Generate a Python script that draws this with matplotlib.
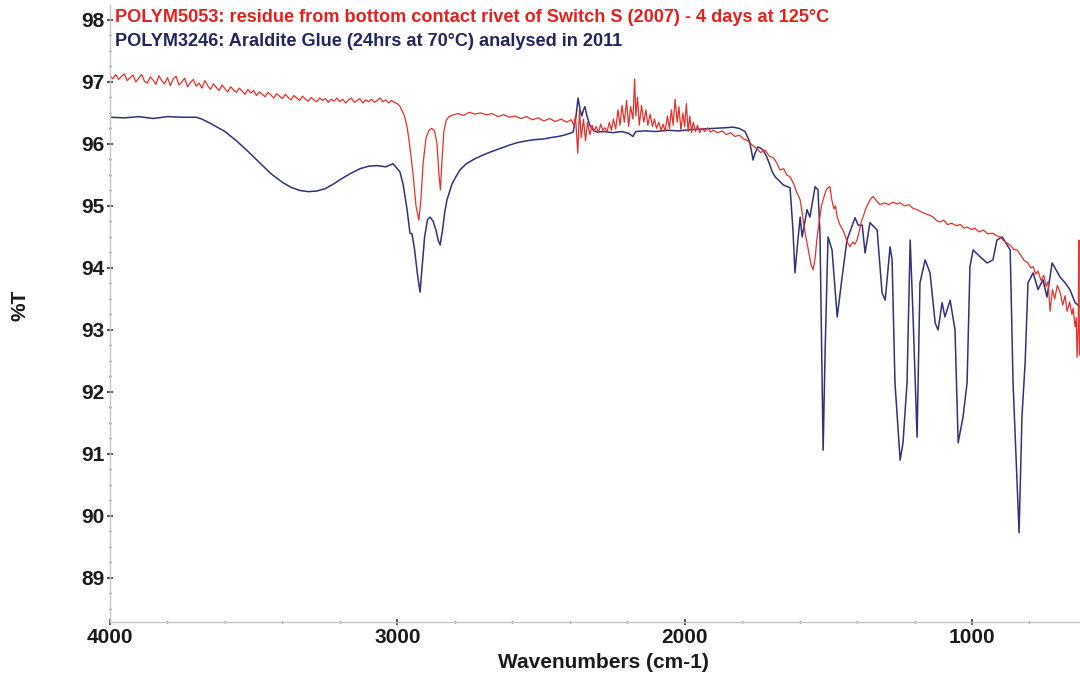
import matplotlib
matplotlib.use("Agg")
import matplotlib.pyplot as plt
from matplotlib.ticker import MultipleLocator

# POLYM5053 residue (red)
red_wn = [4000, 3990, 3980, 3970, 3960, 3950, 3940, 3930, 3920, 3910,
          3900, 3890, 3880, 3870, 3860, 3850, 3840, 3830, 3820, 3810,
          3800, 3790, 3780, 3770, 3760, 3750, 3740, 3730, 3720, 3710,
          3700, 3690, 3680, 3670, 3660, 3650, 3640, 3630, 3620, 3610,
          3600, 3590, 3580, 3570, 3560, 3550, 3540, 3530, 3520, 3510,
          3500, 3490, 3480, 3470, 3460, 3450, 3440, 3430, 3420, 3410,
          3400, 3390, 3380, 3370, 3360, 3350, 3340, 3330, 3320, 3310,
          3300, 3290, 3280, 3270, 3260, 3250, 3240, 3230, 3220, 3210,
          3200, 3190, 3180, 3170, 3160, 3150, 3140, 3130, 3120, 3110,
          3100, 3090, 3080, 3070, 3060, 3050, 3040, 3030, 3020, 3010,
          3000, 2990, 2975, 2965, 2955, 2945, 2935, 2925, 2918, 2910,
          2900, 2890, 2880, 2870, 2862, 2855, 2850, 2845, 2838, 2830,
          2820, 2810, 2790, 2770, 2750, 2730, 2710, 2690, 2670, 2650,
          2630, 2610, 2590, 2570, 2550, 2530, 2510, 2490, 2470, 2450,
          2430, 2410, 2395, 2385, 2380, 2372, 2366, 2360, 2352, 2345,
          2338, 2330, 2322, 2315, 2308, 2300, 2292, 2285, 2278, 2270,
          2262, 2255, 2248, 2240, 2232, 2225, 2218, 2210, 2202, 2195,
          2188, 2180, 2174, 2170, 2164, 2158, 2150, 2142, 2135, 2128,
          2120, 2112, 2105, 2098, 2090, 2082, 2075, 2068, 2060, 2053,
          2046, 2040, 2033, 2026, 2020, 2013, 2006, 2000, 1994, 1988,
          1982, 1976, 1970, 1962, 1955, 1948, 1940, 1930, 1920, 1910,
          1900, 1885, 1870, 1855, 1840, 1825, 1810, 1795, 1780, 1765,
          1748, 1735, 1720, 1705, 1692, 1680, 1668, 1655, 1645, 1633,
          1620, 1610, 1598, 1590, 1582, 1574, 1566, 1560, 1553, 1546,
          1539, 1530, 1524, 1518, 1508, 1500, 1494, 1488, 1480, 1475,
          1469, 1460, 1449, 1440, 1432, 1424, 1415, 1408, 1400, 1392,
          1385, 1379, 1370, 1360, 1352, 1344, 1335, 1328, 1320, 1305,
          1290, 1275, 1260, 1250, 1235, 1220, 1205, 1191, 1175, 1160,
          1147, 1135, 1122, 1111, 1098, 1085, 1070, 1055, 1040, 1028,
          1017, 1002, 990, 975, 960, 945, 927, 915, 902, 890,
          878, 865, 855, 843, 830, 818, 805, 795, 787, 778,
          770, 760, 750, 742, 735, 728, 720, 712, 703, 693,
          684, 676, 669, 660, 652, 648, 641, 637, 634, 630,
          628, 626]
red_t = [97.10, 97.05, 97.12, 97.04, 97.09, 97.13, 97.02, 97.07, 97.11, 97.00,
         97.06, 97.12, 97.01, 96.98, 97.08, 97.03, 96.96, 97.10, 97.02, 96.97,
         97.07, 96.94, 97.05, 97.09, 96.95, 97.00, 97.06, 96.92, 96.99, 97.04,
         96.93, 96.98, 96.90, 97.02, 96.94, 96.88, 96.97, 96.91, 96.86, 96.95,
         96.89, 96.84, 96.92, 96.87, 96.83, 96.90, 96.85, 96.80, 96.88, 96.82,
         96.86, 96.78, 96.84, 96.80, 96.76, 96.83, 96.79, 96.74, 96.81, 96.77,
         96.73, 96.80, 96.75, 96.71, 96.78, 96.74, 96.70, 96.77, 96.72, 96.69,
         96.75, 96.71, 96.68, 96.74, 96.70, 96.73, 96.67, 96.72, 96.69, 96.74,
         96.68, 96.72, 96.66, 96.71, 96.74, 96.67, 96.70, 96.73, 96.66, 96.71,
         96.68, 96.72, 96.67, 96.70, 96.74, 96.68, 96.71, 96.66, 96.70, 96.67,
         96.65, 96.60, 96.45, 96.25, 95.90, 95.50, 95.00, 94.77, 95.10, 95.70,
         96.10, 96.22, 96.25, 96.20, 96.00, 95.50, 95.26, 95.70, 96.20, 96.38,
         96.44, 96.46, 96.49, 96.46, 96.51, 96.48, 96.50, 96.47, 96.49, 96.44,
         96.47, 96.43, 96.45, 96.41, 96.44, 96.39, 96.42, 96.37, 96.41, 96.36,
         96.40, 96.35, 96.39, 96.30, 96.45, 95.85, 96.55, 96.10, 96.40, 96.05,
         96.35, 96.15, 96.30, 96.20, 96.28, 96.18, 96.32, 96.22, 96.26, 96.20,
         96.35, 96.22, 96.40, 96.24, 96.55, 96.30, 96.62, 96.35, 96.70, 96.28,
         96.60, 96.40, 97.05, 96.45, 96.75, 96.30, 96.62, 96.35, 96.55, 96.30,
         96.48, 96.28, 96.40, 96.25, 96.35, 96.22, 96.32, 96.20, 96.45, 96.25,
         96.55, 96.30, 96.72, 96.35, 96.60, 96.22, 96.50, 96.28, 96.65, 96.20,
         96.45, 96.18, 96.35, 96.20, 96.30, 96.18, 96.25, 96.20, 96.26, 96.19,
         96.22, 96.18, 96.21, 96.15, 96.18, 96.12, 96.14, 96.08, 96.05, 95.98,
         95.92, 95.86, 95.90, 95.80, 95.78, 95.70, 95.58, 95.60, 95.50, 95.47,
         95.35, 95.22, 95.10, 94.85, 94.60, 94.40, 94.20, 94.05, 93.97, 94.15,
         94.50, 94.80, 95.00, 95.10, 95.25, 95.30, 95.31, 95.10, 94.95, 95.00,
         94.82, 94.70, 94.61, 94.50, 94.40, 94.34, 94.42, 94.38, 94.45, 94.60,
         94.75, 94.82, 94.95, 95.05, 95.12, 95.15, 95.10, 95.06, 95.02, 95.05,
         95.02, 95.06, 95.03, 95.05, 95.00, 95.02, 94.96, 94.94, 94.90, 94.87,
         94.85, 94.82, 94.76, 94.74, 94.77, 94.70, 94.72, 94.68, 94.70, 94.64,
         94.66, 94.62, 94.64, 94.58, 94.61, 94.55, 94.56, 94.52, 94.50, 94.44,
         94.40, 94.36, 94.30, 94.29, 94.20, 94.12, 94.08, 94.00, 94.02, 93.90,
         93.95, 93.80, 93.88, 93.70, 93.78, 93.30, 93.65, 93.50, 93.72, 93.60,
         93.40, 93.55, 93.30, 93.45, 93.25, 93.35, 93.05, 93.20, 92.56, 93.10,
         94.45, 92.60]

# POLYM3246 Araldite glue (navy)
blue_wn = [4000, 3950, 3900, 3850, 3800, 3750, 3700, 3680, 3650, 3600,
           3560, 3520, 3480, 3440, 3400, 3370, 3340, 3310, 3280, 3250,
           3220, 3190, 3160, 3130, 3100, 3070, 3040, 3015, 2991, 2980,
           2966, 2956, 2949, 2940, 2930, 2921, 2914, 2905, 2895, 2886,
           2875, 2865, 2858, 2851, 2843, 2835, 2827, 2810, 2795, 2782,
           2760, 2730, 2702, 2670, 2640, 2610, 2583, 2550, 2520, 2490,
           2468, 2440, 2420, 2400, 2388, 2378, 2371, 2364, 2358, 2352,
           2347, 2340, 2330, 2318, 2305, 2280, 2250, 2220, 2195, 2180,
           2170, 2140, 2100, 2060, 2020, 1980, 1940, 1900, 1860, 1832,
           1810, 1790, 1775, 1768, 1762, 1755, 1745, 1735, 1727, 1715,
           1705, 1695, 1685, 1657, 1633, 1623, 1616, 1609, 1598, 1591,
           1574, 1564, 1546, 1536, 1529, 1518, 1511, 1501, 1487, 1469,
           1452, 1435, 1407, 1396, 1382, 1372, 1355, 1330, 1313, 1302,
           1285, 1278, 1268, 1250, 1240, 1226, 1215, 1205, 1191, 1181,
           1163, 1146, 1128, 1118, 1104, 1094, 1076, 1059, 1048, 1031,
           1017, 1007, 996, 972, 947, 927, 913, 895, 867, 857,
           843, 836, 826, 815, 805, 787, 770, 753, 739, 721,
           693, 676, 659, 641, 624]
blue_t = [96.43, 96.42, 96.44, 96.41, 96.44, 96.43, 96.43, 96.40, 96.33, 96.20,
          96.05, 95.88, 95.70, 95.52, 95.38, 95.30, 95.25, 95.23, 95.24, 95.28,
          95.36, 95.45, 95.53, 95.60, 95.64, 95.65, 95.63, 95.68, 95.55, 95.35,
          94.94, 94.56, 94.55, 94.30, 93.90, 93.61, 94.00, 94.50, 94.78, 94.82,
          94.75, 94.60, 94.45, 94.37, 94.60, 94.90, 95.10, 95.35, 95.48, 95.58,
          95.68, 95.76, 95.82, 95.88, 95.93, 95.98, 96.02, 96.05, 96.07, 96.08,
          96.10, 96.12, 96.14, 96.17, 96.19, 96.45, 96.74, 96.55, 96.45, 96.55,
          96.60, 96.45, 96.30, 96.22, 96.19, 96.20, 96.18, 96.20, 96.17, 96.12,
          96.20, 96.21, 96.20, 96.22, 96.21, 96.23, 96.24, 96.25, 96.26, 96.27,
          96.25, 96.20, 96.05, 95.90, 95.74, 95.85, 95.95, 95.93, 95.90, 95.80,
          95.68, 95.55, 95.47, 95.34, 95.29, 94.61, 93.92, 94.29, 94.82, 94.50,
          94.94, 94.82, 95.31, 95.26, 94.56, 91.06, 92.68, 94.50, 94.29, 93.21,
          93.85, 94.45, 94.81, 94.69, 94.69, 94.24, 94.73, 94.61, 93.60, 93.48,
          94.34, 94.13, 92.15, 90.90, 91.18, 92.15, 94.45, 93.21, 91.27, 93.76,
          94.13, 93.92, 93.11, 93.00, 93.44, 93.21, 93.48, 93.00, 91.18, 91.60,
          92.15, 94.02, 94.29, 94.18, 94.08, 94.13, 94.45, 94.50, 94.29, 92.15,
          90.53, 89.73, 91.60, 92.47, 93.76, 93.92, 93.65, 93.81, 93.53, 94.08,
          93.85, 93.76, 93.65, 93.44, 93.37]

red_label = "POLYM5053: residue from bottom contact rivet of Switch S (2007) - 4 days at 125\u00b0C"
blue_label = "POLYM3246: Araldite Glue (24hrs at 70\u00b0C) analysed in 2011"

plt.rcParams['font.family'] = ['Liberation Sans', 'DejaVu Sans']
plt.rcParams['font.weight'] = 'bold'

fig = plt.figure(figsize=(10.8, 6.79), dpi=100)
ax = fig.add_axes([110 / 1080, 57 / 679, 970 / 1080, 617 / 679])

ax.plot(blue_wn, blue_t, color='#30327a', lw=1.1)
ax.plot(red_wn, red_t, color='#e5302a', lw=0.9)

ax.set_xlim(4000, 624)
ax.set_ylim(88.29, 98.24)

ax.xaxis.set_major_locator(MultipleLocator(1000))
ax.xaxis.set_minor_locator(MultipleLocator(200))
ax.yaxis.set_major_locator(MultipleLocator(1))
ax.yaxis.set_minor_locator(MultipleLocator(0.25))

for side in ['top', 'right']:
    ax.spines[side].set_visible(False)
for side in ['left', 'bottom']:
    ax.spines[side].set_color('#c4c4c4')
    ax.spines[side].set_linewidth(1.0)

ax.tick_params(which='major', direction='inout', length=4, width=1.2,
               color='#333333', labelsize=15, pad=2)
ax.tick_params(which='minor', direction='inout', length=2, width=1.0,
               color='#555555')
for lab in ax.get_xticklabels() + ax.get_yticklabels():
    lab.set_fontweight('bold')
    lab.set_color('#1a1a1a')

fig.text(115 / 1080, 1 - 18 / 679, red_label, color='#e5201c', fontsize=13.1,
         fontweight='bold', va='center', ha='left')
fig.text(115 / 1080, 1 - 42 / 679, blue_label, color='#22245e', fontsize=13.1,
         fontweight='bold', va='center', ha='left')

fig.text(603 / 1080, 1 - 663 / 679, 'Wavenumbers (cm-1)', fontsize=15,
         fontweight='bold', ha='center', va='center', color='#1a1a1a')
fig.text(20 / 1080, 1 - 305 / 679, '%T', fontsize=15, rotation=90,
         fontweight='bold', ha='center', va='center', color='#1a1a1a')

fig.savefig('out.png', dpi=100)
